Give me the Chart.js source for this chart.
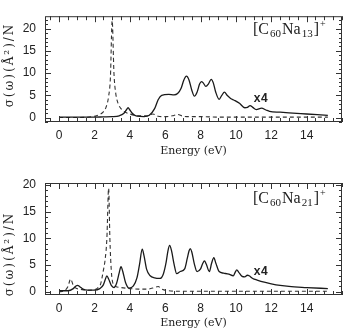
<!DOCTYPE html>
<html lang="en">
<head>
<meta charset="UTF-8">
<title>C60Na clusters - optical absorption</title>
<script src="https://cdn.jsdelivr.net/npm/chart.js@4.4.0/dist/chart.umd.min.js"></script>
<style>
    html, body { margin: 0; padding: 0; background: #fff; }
    .panel { position: absolute; left: 0; width: 346px; height: 166px; }
    #topWrap { top: 0; }
    #botWrap { top: 166px; }
</style>
</head>
<body>
<div class="panel" id="topWrap"><canvas id="topChart" width="346" height="166"></canvas></div>
<div class="panel" id="botWrap"><canvas id="botChart" width="346" height="166"></canvas></div>
<script>
// axis tick labels
const xTicks = [0, 2, 4, 6, 8, 10, 12, 14];
const yTicks = [0, 5, 10, 15, 20];

// [C60Na13]+ : solid = x4 curve, dashed = unscaled
const topSolidE = [0, 0.5, 1, 1.5, 2, 2.5, 3, 3.4, 3.65, 3.8, 3.9, 4.0, 4.15, 4.4, 4.8, 5.1, 5.4, 5.6, 5.8, 6.2, 6.5, 6.7, 6.9, 7.05, 7.2, 7.35, 7.5, 7.65, 7.8, 7.95, 8.05, 8.15, 8.3, 8.45, 8.6, 8.72, 8.85, 9.05, 9.2, 9.35, 9.5, 9.7, 9.9, 10.2, 10.5, 10.65, 10.8, 10.95, 11.15, 11.45, 11.7, 11.9, 12.5, 13, 14, 15.2];
const topSolidY = [0.1, 0.1, 0.1, 0.1, 0.1, 0.15, 0.2, 0.4, 0.9, 1.7, 2.2, 1.7, 0.9, 0.3, 0.2, 0.5, 2.0, 4.0, 5.0, 5.2, 5.1, 5.4, 6.6, 8.4, 9.3, 8.4, 6.2, 4.8, 5.7, 7.6, 8.1, 7.8, 7.0, 7.6, 8.6, 7.8, 5.8, 4.1, 5.0, 5.7, 5.0, 4.3, 3.9, 3.2, 2.2, 2.3, 2.7, 2.3, 1.8, 2.1, 1.7, 1.4, 1.2, 1.05, 0.8, 0.5];
const topDashE = [0, 1, 2.0, 2.3, 2.5, 2.65, 2.8, 2.9, 3.0, 3.1, 3.2, 3.35, 3.5, 3.7, 4.0, 4.5, 5.0, 5.3, 5.6, 6.0, 6.4, 6.7, 7.0, 7.5, 8, 9, 10, 11, 12, 13, 14, 15.2];
const topDashY = [0, 0, 0.3, 0.7, 1.3, 2.3, 4.8, 9, 21.8, 10, 5.5, 3, 2, 1.3, 0.8, 0.4, 0.4, 0.8, 0.3, 0.2, 0.4, 0.7, 0.3, 0.2, 0.2, 0.1, 0.1, 0.1, 0.1, 0.1, 0.1, 0.1];

// [C60Na21]+
const botSolidE = [0, 0.5, 0.8, 0.95, 1.05, 1.15, 1.35, 1.6, 2.0, 2.3, 2.5, 2.6, 2.7, 2.8, 2.95, 3.1, 3.25, 3.4, 3.5, 3.6, 3.75, 3.95, 4.2, 4.4, 4.55, 4.7, 4.8, 4.95, 5.15, 5.4, 5.7, 5.9, 6.05, 6.15, 6.25, 6.35, 6.5, 6.65, 6.85, 7.1, 7.25, 7.35, 7.42, 7.5, 7.65, 7.8, 8.0, 8.12, 8.22, 8.32, 8.5, 8.62, 8.75, 8.87, 9.05, 9.3, 9.6, 9.85, 9.95, 10.05, 10.15, 10.35, 10.5, 10.65, 10.75, 10.95, 11.2, 11.6, 12, 12.5, 13, 14, 15.2];
const botSolidY = [0.2, 0.2, 0.6, 1.1, 1.2, 1.0, 0.5, 0.3, 0.3, 0.6, 1.3, 2.2, 3.0, 2.4, 1.2, 0.8, 1.6, 3.6, 4.7, 3.8, 1.8, 0.7, 1.1, 2.6, 5.2, 8.0, 6.8, 4.2, 3.0, 2.6, 2.5, 3.4, 5.5, 7.6, 8.7, 7.8, 5.2, 3.4, 3.8, 4.3, 6.3, 7.7, 8.1, 7.5, 5.2, 3.8, 4.3, 5.3, 5.8, 5.2, 3.8, 5.3, 6.4, 5.3, 3.8, 3.5, 3.3, 3.0, 3.6, 4.1, 3.7, 2.9, 2.8, 3.1, 3.0, 2.5, 2.2, 1.8, 1.5, 1.2, 1.0, 0.8, 0.6];
const botDashE = [0, 0.3, 0.5, 0.65, 0.8, 1.0, 1.3, 1.7, 2.0, 2.2, 2.35, 2.5, 2.6, 2.7, 2.8, 2.87, 2.95, 3.05, 3.2, 3.5, 4.0, 4.5, 5.0, 5.4, 5.6, 5.8, 6.2, 7, 8, 9, 10, 11, 12, 13, 14, 15.2];
const botDashY = [0, 0.2, 1.0, 2.4, 1.2, 0.6, 0.4, 0.3, 0.4, 0.8, 1.5, 4, 6, 10, 19.4, 10, 4, 1.5, 1.0, 0.8, 0.6, 0.5, 0.5, 0.8, 1.0, 0.5, 0.2, 0.1, 0.1, 0.1, 0.1, 0.1, 0.1, 0.1, 0.1, 0.1];

function pts(e, v) {
    return e.map((x, i) => ({ x: x, y: v[i] }));
}

// frame, inward ticks on all four sides, y title, species label and "x4"
const framePlugin = {
    id: 'frame',
    afterDatasetsDraw(chart, args, o) {
        const { ctx, chartArea: a, scales: { x, y } } = chart;
        ctx.save();
        ctx.strokeStyle = '#333';
        ctx.lineWidth = 1;
        ctx.strokeRect(a.left + 0.5, a.top + 0.5, a.right - a.left - 1, a.bottom - a.top - 1);

        const seg = (x1, y1, x2, y2) => {
            ctx.beginPath(); ctx.moveTo(x1, y1); ctx.lineTo(x2, y2); ctx.stroke();
        };
        for (let v = Math.ceil(x.min * 2) / 2; v <= x.max; v += 0.5) {
            const px = Math.round(x.getPixelForValue(v)) + 0.5;
            const len = xTicks.includes(v) ? 6 : 4;
            seg(px, a.bottom, px, a.bottom - len);
            seg(px, a.top, px, a.top + len);
        }
        for (let v = Math.ceil(y.min); v <= y.max; v += 1) {
            const py = Math.round(y.getPixelForValue(v)) + 0.5;
            const len = yTicks.includes(v) ? 6 : 3;
            seg(a.left, py, a.left + len, py);
            seg(a.right, py, a.right - len, py);
        }

        // y title
        ctx.fillStyle = '#222';
        ctx.save();
        ctx.translate(10, o.titleY);
        ctx.rotate(-Math.PI / 2);
        ctx.font = '12px "DejaVu Serif"';
        if ('letterSpacing' in ctx) ctx.letterSpacing = '2px';
        ctx.textAlign = 'center';
        ctx.textBaseline = 'middle';
        ctx.fillText('σ(ω)(Å²)/N', 0, 0);
        ctx.restore();

        // species label
        let cx = o.labelX;
        const base = o.labelY;
        const parts = [
            ['[C', '16px "Liberation Serif"', 0],
            ['60', '11px "Liberation Serif"', 3],
            ['Na', '16px "Liberation Serif"', 0],
            [o.sub, '11px "Liberation Serif"', 3],
            [']', '16px "Liberation Serif"', 0],
            ['+', '10px "Liberation Serif"', -7]
        ];
        ctx.textAlign = 'left';
        ctx.textBaseline = 'alphabetic';
        parts.forEach(p => {
            ctx.font = p[1];
            ctx.fillText(p[0], cx, base + p[2]);
            cx += ctx.measureText(p[0]).width + 1;
        });

        // x4 note
        ctx.font = 'bold 12px "Liberation Mono"';
        ctx.textBaseline = 'middle';
        ctx.fillText('x4', x.getPixelForValue(o.noteX), y.getPixelForValue(o.noteY));
        ctx.restore();
    }
};

function makeChart(id, solidE, solidY, dashE, dashY, cfg) {
    return new Chart(document.getElementById(id), {
        type: 'line',
        data: {
            datasets: [{
                data: pts(solidE, solidY),
                borderColor: '#1a1a1a',
                borderWidth: 1.3,
                pointRadius: 0,
                cubicInterpolationMode: 'monotone'
            }, {
                data: pts(dashE, dashY),
                borderColor: '#333',
                borderWidth: 1.1,
                borderDash: [4, 3],
                pointRadius: 0,
                cubicInterpolationMode: 'monotone'
            }]
        },
        options: {
            responsive: false,
            animation: false,
            layout: { padding: { top: cfg.padTop, right: 4, left: 0, bottom: 0 } },
            plugins: {
                legend: { display: false },
                tooltip: { enabled: false },
                frame: cfg
            },
            scales: {
                x: {
                    type: 'linear',
                    min: -0.8,
                    max: 16.0,
                    afterBuildTicks: s => { s.ticks = xTicks.map(v => ({ value: v })); },
                    afterFit: s => { s.height = cfg.xHeight; },
                    grid: { display: false, drawTicks: false },
                    border: { display: false },
                    ticks: {
                        padding: 6,
                        color: '#222',
                        font: { family: '"Liberation Sans"', size: 12 }
                    },
                    title: {
                        display: true,
                        text: 'Energy (eV)',
                        color: '#222',
                        font: { family: '"DejaVu Serif"', size: 11 },
                        padding: { top: 0, bottom: cfg.xTitlePad }
                    }
                },
                y: {
                    min: cfg.yMin,
                    max: cfg.yMax,
                    afterBuildTicks: s => { s.ticks = yTicks.map(v => ({ value: v })); },
                    afterFit: s => { s.width = 45; },
                    grid: { display: false, drawTicks: false },
                    border: { display: false },
                    ticks: {
                        padding: 9,
                        color: '#222',
                        font: { family: '"Liberation Sans"', size: 12 }
                    }
                }
            }
        },
        plugins: [framePlugin]
    });
}

makeChart('topChart', topSolidE, topSolidY, topDashE, topDashY, {
    padTop: 10, xHeight: 44, xTitlePad: 8, yMin: -1.0, yMax: 22.8,
    titleY: 65, labelX: 253, labelY: 33.5, sub: '13', noteX: 11.0, noteY: 4.2
});
makeChart('botChart', botSolidE, botSolidY, botDashE, botDashY, {
    padTop: 17, xHeight: 37, xTitlePad: 2, yMin: -0.6, yMax: 20.4,
    titleY: 88, labelX: 253, labelY: 37.3, sub: '21', noteX: 11.0, noteY: 3.8
});
</script>
</body>
</html>
